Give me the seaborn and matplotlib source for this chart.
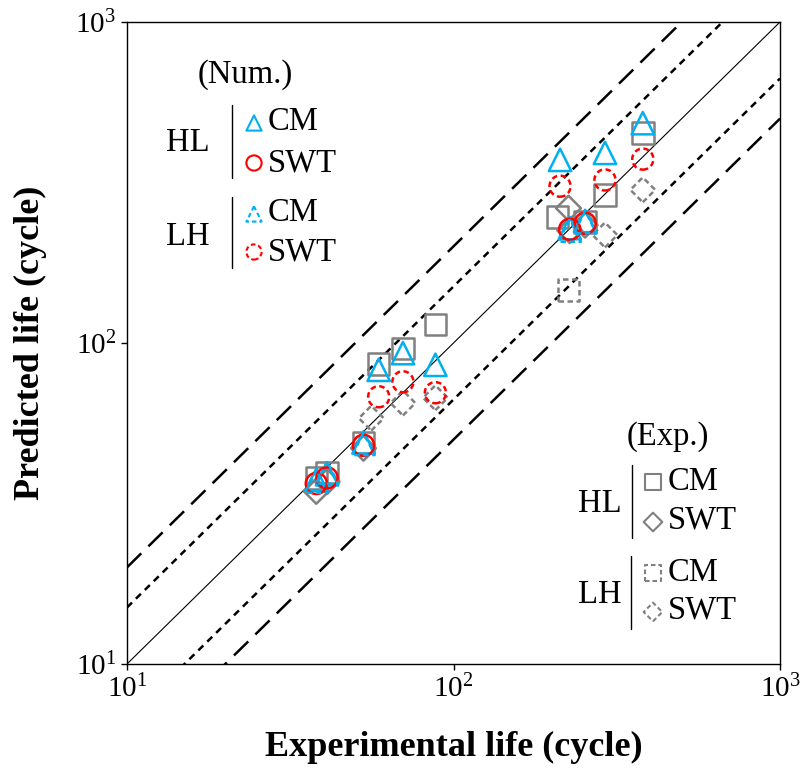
import numpy as np
import pandas as pd
import matplotlib
matplotlib.use("Agg")
import matplotlib.pyplot as plt
import seaborn as sns
from matplotlib.ticker import LogLocator, LogFormatterMathtext, NullLocator

# ---------------- data ----------------
# Num. predictions
hl_cm_num_x = [38, 41, 53, 59, 70, 88, 212, 227, 253, 291, 380]
hl_cm_num_y = [37.5, 39, 49, 82.5, 93, 85.5, 372, 228, 240, 391, 484]
hl_swt_num_x = [38, 41, 53, 227, 253]
hl_swt_num_y = [36.5, 38, 48, 226, 236]
lh_cm_num_x = [38, 41, 53, 227, 253]
lh_cm_num_y = [37, 39.5, 48.5, 224, 238]
lh_swt_num_x = [59, 70, 88, 212, 291, 380]
lh_swt_num_y = [68, 75.7, 70, 308, 322, 374]
# Exp. predictions
hl_cm_exp_x = [38, 41, 53, 59, 70, 88, 208, 253, 291, 380]
hl_cm_exp_y = [38, 39.5, 49, 86, 96, 114, 247, 238, 289, 451]
hl_swt_exp_x = [38, 41, 53, 225, 227, 253]
hl_swt_exp_y = [34.5, 37, 47, 263, 224, 233]
lh_cm_exp_x = [225]
lh_cm_exp_y = [146]
lh_swt_exp_x = [56, 70, 88, 291, 380]
lh_swt_exp_y = [58.3, 65, 67.5, 217, 300]

# reference lines: factor bands
band_x = [10, 1000]
factors = [1.0, 1.5, 1 / 1.5, 2.0, 0.5]

# ---------------- style ----------------
sns.set_theme(style="white")
plt.rcParams["font.family"] = ["Liberation Serif", "DejaVu Serif"]
plt.rcParams["mathtext.default"] = "regular"
plt.rcParams["mathtext.fontset"] = "custom"
plt.rcParams["mathtext.rm"] = "Liberation Serif"
for k in ["text.color", "axes.labelcolor", "xtick.color", "ytick.color"]:
    plt.rcParams[k] = "black"

BLUE = "#00B0F0"
RED = "#FF0000"
GRAY = "#808080"
DASH = (0, (2.2, 1.4))

fig = plt.figure(figsize=(8.02, 7.70), dpi=100)
ax = fig.add_axes([127 / 802, 1 - 664 / 770, 653 / 802, 642 / 770])

# reference lines
line_styles = {
    1.0: dict(lw=0.8, ls="-"),
    1.5: dict(lw=1.8, ls=(0, (2.8, 2.2))),
    1 / 1.5: dict(lw=1.8, ls=(0, (2.8, 2.2))),
    2.0: dict(lw=1.8, ls=(0, (8, 4))),
    0.5: dict(lw=1.8, ls=(0, (8, 4))),
}
for f in factors:
    st = line_styles[f]
    df_line = pd.DataFrame({"x": band_x, "y": [v * f for v in band_x]})
    sns.lineplot(data=df_line, x="x", y="y", ax=ax, color="black",
                 linewidth=st["lw"], linestyle=st["ls"], zorder=1)

series = [
    (hl_cm_exp_x, hl_cm_exp_y, "s", GRAY, "-", 240),
    (hl_swt_exp_x, hl_swt_exp_y, "D", GRAY, "-", 160),
    (lh_cm_exp_x, lh_cm_exp_y, "s", GRAY, DASH, 240),
    (lh_swt_exp_x, lh_swt_exp_y, "D", GRAY, DASH, 160),
    (hl_cm_num_x, hl_cm_num_y, "^", BLUE, "-", 260),
    (hl_swt_num_x, hl_swt_num_y, "o", RED, "-", 230),
    (lh_cm_num_x, lh_cm_num_y, "^", BLUE, DASH, 260),
    (lh_swt_num_x, lh_swt_num_y, "o", RED, DASH, 230),
]
for xs, ys, mk, col, ls, s in series:
    sns.scatterplot(x=xs, y=ys, ax=ax, marker=mk, s=s, color=col,
                    facecolor="none", edgecolor=col, linewidth=1.8,
                    linestyle=ls, zorder=3)

ax.set_xscale("log")
ax.set_yscale("log")
ax.set_xlim(10, 1000)
ax.set_ylim(10, 1000)
ax.xaxis.set_major_locator(LogLocator(base=10))
ax.yaxis.set_major_locator(LogLocator(base=10))
ax.xaxis.set_minor_locator(NullLocator())
ax.yaxis.set_minor_locator(NullLocator())
ax.xaxis.set_major_formatter(LogFormatterMathtext())
ax.yaxis.set_major_formatter(LogFormatterMathtext())
ax.tick_params(axis="both", which="major", direction="out", length=4,
               width=1, color="black", labelsize=21, pad=4,
               bottom=True, left=True)
for sp in ax.spines.values():
    sp.set_color("black")
    sp.set_linewidth(1.0)

ax.set_xlabel("Experimental life (cycle)", fontsize=26, fontweight="bold", labelpad=20)
ax.set_ylabel("Predicted life (cycle)", fontsize=26, fontweight="bold", labelpad=20)

# ---------------- custom legends ----------------
def fx(px):
    return (px - 127) / 653

def fy(py):
    return (664 - py) / 642

FS = 23.5
LEG_S = 120

def glyph(px, py, mk, col, ls, s=LEG_S):
    ax.scatter([fx(px)], [fy(py)], marker=mk, s=s, facecolor="none",
               edgecolor=col, linewidth=1.5, linestyle=ls,
               transform=ax.transAxes, clip_on=False, zorder=5)

def txt(px, py, s, ha="left"):
    ax.text(fx(px), fy(py), s, transform=ax.transAxes, fontsize=FS,
            ha=ha, va="center", color="black")

def vbar(px, py0, py1):
    ax.plot([fx(px), fx(px)], [fy(py0), fy(py1)], color="black", lw=1.0,
            transform=ax.transAxes, clip_on=False)

# Num. legend
txt(245, 75, "(Num.)", ha="center")
txt(188, 143, "HL", ha="center")
vbar(232, 105, 178)
glyph(254, 123, "^", BLUE, "-")
txt(268, 122, "CM")
glyph(254, 163, "o", RED, "-")
txt(268, 163, "SWT")
txt(188, 237, "LH", ha="center")
vbar(232, 197, 268)
glyph(254, 214, "^", BLUE, DASH)
txt(268, 213, "CM")
glyph(254, 252, "o", RED, DASH)
txt(268, 252, "SWT")

# Exp. legend
txt(668, 437, "(Exp.)", ha="center")
txt(600, 504, "HL", ha="center")
vbar(632, 465, 538)
glyph(653, 482, "s", GRAY, "-")
txt(668, 482, "CM")
glyph(653, 522, "D", GRAY, "-", s=90)
txt(668, 520, "SWT")
txt(600, 595, "LH", ha="center")
vbar(631, 556, 629)
glyph(653, 573, "s", GRAY, DASH)
txt(668, 573, "CM")
glyph(653, 612, "D", GRAY, DASH, s=90)
txt(668, 610, "SWT")

fig.savefig("out.png", dpi=100)
